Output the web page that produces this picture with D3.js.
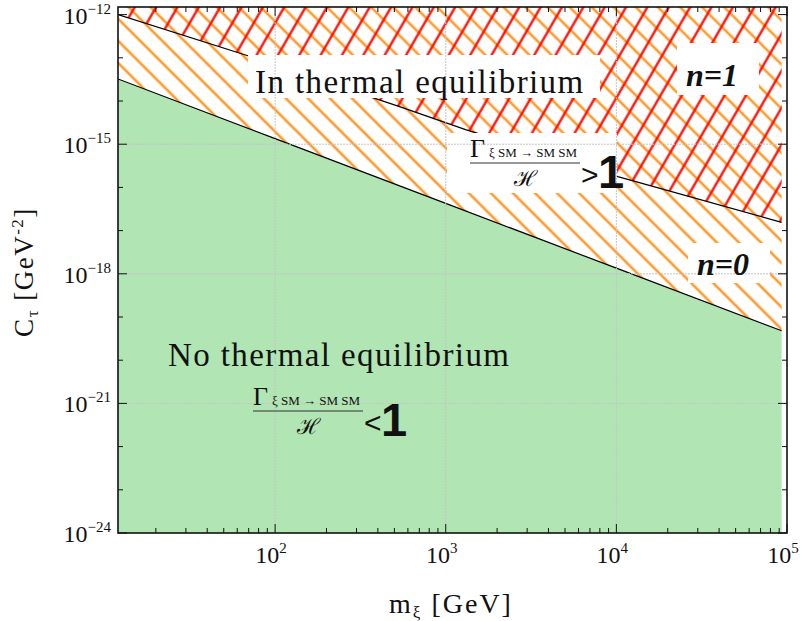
<!DOCTYPE html>
<html>
<head>
<meta charset="utf-8">
<script src="https://cdn.jsdelivr.net/npm/d3@7"></script>
<style>
  body { margin: 0; background: #fff; }
  text { font-family: "Liberation Serif", "DejaVu Serif", serif; fill: #111; }
</style>
</head>
<body>
<svg id="chart" width="807" height="621"></svg>
<script>
// values
const massTicks = [1e2, 1e3, 1e4, 1e5];
const couplingTicks = [1e-24, 1e-21, 1e-18, 1e-15, 1e-12];
const massLabels = ['2', '3', '4', '5'];
const couplingLabels = ['\u221224', '\u221221', '\u221218', '\u221215', '\u221212'];

// boundary of thermal equilibrium (n=0)
const lowerMass = [12, 100, 1000, 10000, 93000];
const lowerC = [3.24e-14, 1.35e-15, 4.27e-17, 1.35e-18, 4.79e-20];

// boundary for n=1
const upperMass = [12, 71.5, 536, 1320, 10200, 93000];
const upperC = [1e-12, 1.07e-13, 7.41e-15, 2.14e-15, 1.78e-16, 1.55e-17];

const margin = {left: 118, top: 7, right: 20, bottom: 88};
const width = 807, height = 621;

const svg = d3.select('#chart');
const x = d3.scaleLog().domain([12, 1e5]).range([margin.left, width - margin.right]);
const y = d3.scaleLog().domain([1e-24, 1.5e-12]).range([height - margin.bottom, margin.top]);
const [x0, x1] = x.range();
const [y0, y1] = [y.range()[1], y.range()[0]];

const defs = svg.append('defs');
defs.append('clipPath').attr('id', 'plotClip')
  .append('rect').attr('x', x0).attr('y', y0).attr('width', x1 - x0).attr('height', y1 - y0);

const hatch = (id, color, spacing, angle, sw) => {
  const p = defs.append('pattern')
    .attr('id', id)
    .attr('patternUnits', 'userSpaceOnUse')
    .attr('width', 20).attr('height', spacing)
    .attr('patternTransform', `rotate(${angle})`);
  p.append('line')
    .attr('x1', -2).attr('x2', 22)
    .attr('y1', spacing / 2).attr('y2', spacing / 2)
    .attr('stroke', color).attr('stroke-width', sw);
};
hatch('orangeHatch', '#ff9a2e', 15.6, 45, 2.6);
hatch('redHatch', '#ff0a00', 18.5, -60, 2.3);

const lower = lowerMass.map((m, i) => ({m, c: lowerC[i]}));
const upper = upperMass.map((m, i) => ({m, c: upperC[i]}));

const plot = svg.append('g').attr('clip-path', 'url(#plotClip)');

// green: no thermal equilibrium
plot.append('path')
  .datum(lower)
  .attr('fill', '#b2e5b4')
  .attr('d', d3.area().x(d => x(d.m)).y0(y1).y1(d => y(d.c)));

// orange: thermal equilibrium (n=0 and above)
plot.append('path')
  .datum(lower)
  .attr('fill', 'url(#orangeHatch)')
  .attr('d', d3.area().x(d => x(d.m)).y0(y0 - 5).y1(d => y(d.c)));

// red: n=1
plot.append('path')
  .datum(upper)
  .attr('fill', 'url(#redHatch)')
  .attr('d', d3.area().x(d => x(d.m)).y0(y0 - 5).y1(d => y(d.c)));

const line = d3.line().x(d => x(d.m)).y(d => y(d.c));
plot.append('path').datum(lower).attr('fill', 'none').attr('stroke', '#000').attr('stroke-width', 1.2).attr('d', line);
plot.append('path').datum(upper).attr('fill', 'none').attr('stroke', '#000').attr('stroke-width', 1.2).attr('d', line);

// white label boxes
const boxes = [
  [248, 55, 352, 43],
  [677, 43, 82, 52],
  [447, 133, 170, 60],
  [688, 243, 82, 40]
];
plot.selectAll('rect.box')
  .data(boxes)
  .join('rect')
  .attr('class', 'box')
  .attr('x', d => d[0]).attr('y', d => d[1])
  .attr('width', d => d[2]).attr('height', d => d[3])
  .attr('fill', '#fff');

// grid
const grid = svg.append('g').attr('stroke', '#c4c4c4').attr('stroke-width', 1).attr('stroke-dasharray', '2,1');
grid.selectAll('line.gx')
  .data(massTicks.slice(0, 3))
  .join('line')
  .attr('x1', d => x(d)).attr('x2', d => x(d))
  .attr('y1', y0).attr('y2', y1);
grid.selectAll('line.gy')
  .data(couplingTicks.slice(1, 4))
  .join('line')
  .attr('x1', x0).attr('x2', x1)
  .attr('y1', d => y(d)).attr('y2', d => y(d));

// texts inside plot
svg.append('text').attr('x', 255).attr('y', 93).attr('font-size', 33)
  .attr('letter-spacing', 1.4).text('In thermal equilibrium');
svg.append('text').attr('x', 168).attr('y', 366).attr('font-size', 33)
  .attr('letter-spacing', 1.4).text('No thermal equilibrium');
svg.append('text').attr('x', 686).attr('y', 86).attr('font-size', 32)
  .attr('font-weight', 'bold').attr('font-style', 'italic').text('n=1');
svg.append('text').attr('x', 697).attr('y', 275).attr('font-size', 32)
  .attr('font-weight', 'bold').attr('font-style', 'italic').text('n=0');

const ratio = (left, numBase, barY, sign) => {
  const g = svg.append('g');
  g.append('text').attr('x', left).attr('y', numBase).attr('font-size', 26).text('\u0393');
  g.append('text').attr('x', left + 19).attr('y', numBase).attr('font-size', 13)
    .text('\u03be SM \u2192 SM SM');
  g.append('line').attr('x1', left).attr('x2', left + 110)
    .attr('y1', barY).attr('y2', barY).attr('stroke', '#333').attr('stroke-width', 1.2);
  g.append('text').attr('x', left + 55).attr('y', barY + 23).attr('font-size', 22)
    .attr('text-anchor', 'middle').text('\u210b');
  g.append('text').attr('x', left + 111).attr('y', barY + 22).attr('font-size', 30)
    .style('font-family', '"Liberation Sans", sans-serif').text(sign);
  g.append('text').attr('x', left + 128).attr('y', barY + 25).attr('font-size', 47)
    .attr('font-weight', 'bold').style('font-family', '"Liberation Sans", sans-serif').text('1');
};
ratio(470, 157, 163, '>');
ratio(253, 405, 411, '<');

// frame
svg.append('rect')
  .attr('x', x0).attr('y', y0).attr('width', x1 - x0).attr('height', y1 - y0)
  .attr('fill', 'none').attr('stroke', '#111').attr('stroke-width', 1.6);

// ticks
const minorX = [];
[10, 100, 1000, 10000].forEach(d => {
  for (let k = 2; k <= 9; k++) if (d * k >= 12 && d * k < 1e5) minorX.push(d * k);
});
const minorY = d3.range(-24, -11).filter(e => e % 3 !== 0).map(e => Math.pow(10, e));
const ticks = svg.append('g').attr('stroke', '#111').attr('stroke-width', 1);
const tickSet = (data, len, horizontal) => {
  if (horizontal) {
    ticks.append('g').selectAll('line').data(data).join('line')
      .attr('x1', d => x(d)).attr('x2', d => x(d)).attr('y1', y1).attr('y2', y1 - len);
    ticks.append('g').selectAll('line').data(data).join('line')
      .attr('x1', d => x(d)).attr('x2', d => x(d)).attr('y1', y0).attr('y2', y0 + len);
  } else {
    ticks.append('g').selectAll('line').data(data).join('line')
      .attr('y1', d => y(d)).attr('y2', d => y(d)).attr('x1', x0).attr('x2', x0 + len);
    ticks.append('g').selectAll('line').data(data).join('line')
      .attr('y1', d => y(d)).attr('y2', d => y(d)).attr('x1', x1).attr('x2', x1 - len);
  }
};
tickSet(minorX, 5, true);
tickSet(massTicks, 9, true);
tickSet(minorY, 5, false);
tickSet(couplingTicks, 9, false);

// tick labels
const xl = svg.append('g').selectAll('text').data(massTicks).join('text')
  .attr('x', d => x(d) - 4).attr('y', 563).attr('font-size', 24).attr('text-anchor', 'middle');
xl.append('tspan').text('10');
xl.append('tspan').attr('dy', -10).attr('font-size', 15).text((d, i) => massLabels[i]);

const yl = svg.append('g').selectAll('text').data(couplingTicks).join('text')
  .attr('x', 111).attr('y', d => y(d) + 9).attr('font-size', 24).attr('text-anchor', 'end');
yl.append('tspan').text('10');
yl.append('tspan').attr('dy', -10).attr('font-size', 15).text((d, i) => couplingLabels[i]);

// axis titles
const xt = svg.append('text').attr('x', 451).attr('y', 613).attr('font-size', 28)
  .attr('text-anchor', 'middle').attr('letter-spacing', 2);
xt.append('tspan').text('m');
xt.append('tspan').attr('dy', 5).attr('font-size', 17).text('\u03be');
xt.append('tspan').attr('dy', -5).text(' [GeV]');

const yt = svg.append('text').attr('transform', 'translate(33,272) rotate(-90)')
  .attr('font-size', 27).attr('text-anchor', 'middle').attr('letter-spacing', 1.5);
yt.append('tspan').text('C');
yt.append('tspan').attr('dy', 5).attr('font-size', 17).text('\u03c4');
yt.append('tspan').attr('dy', -5).text(' [GeV');
yt.append('tspan').attr('dy', -10).attr('font-size', 17).text('-2');
yt.append('tspan').attr('dy', 10).text(']');
</script>
</body>
</html>
